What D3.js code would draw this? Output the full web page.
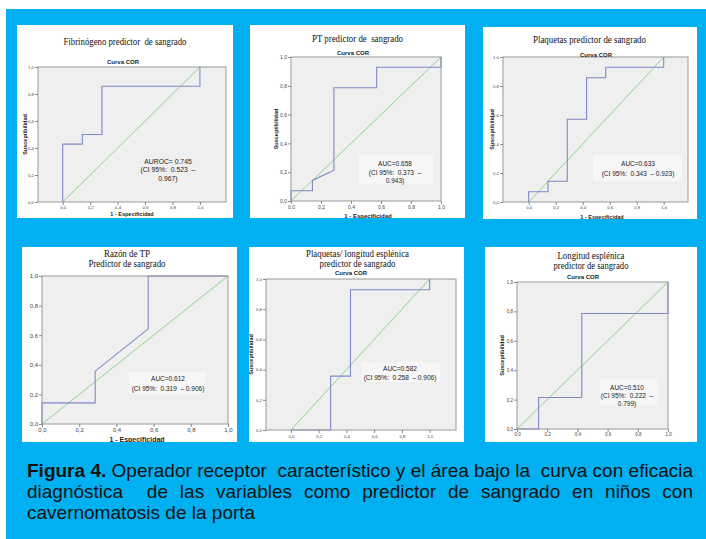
<!DOCTYPE html>
<html>
<head>
<meta charset="utf-8">
<script src="https://cdn.jsdelivr.net/npm/d3@7"></script>
<style>
body { margin: 0; background: #fff; }
svg { display: block; }
</style>
</head>
<body>
<svg id="fig" width="706" height="539"></svg>
<script>
// ROC curves: x = 1 - especificidad, y = sensibilidad
const fibrinogenoX = [0, 0, 0.143, 0.143, 0.286, 0.286, 1, 1];
const fibrinogenoY = [0, 0.429, 0.429, 0.5, 0.5, 0.857, 0.857, 1];
const ptX = [0, 0, 0.143, 0.143, 0.286, 0.286, 0.571, 0.571, 1, 1];
const ptY = [0, 0.071, 0.071, 0.143, 0.214, 0.786, 0.786, 0.929, 0.929, 1];
const plaquetasX = [0, 0, 0.143, 0.143, 0.286, 0.286, 0.429, 0.429, 0.571, 0.571, 1, 1];
const plaquetasY = [0, 0.071, 0.071, 0.143, 0.143, 0.571, 0.571, 0.857, 0.857, 0.929, 0.929, 1];
const razonX = [0, 0, 0.286, 0.286, 0.571, 0.571, 1];
const razonY = [0, 0.143, 0.143, 0.357, 0.643, 1, 1];
const plaqLongX = [0, 0.286, 0.286, 0.429, 0.429, 1, 1];
const plaqLongY = [0, 0, 0.357, 0.357, 0.929, 0.929, 1];
const longitudX = [0, 0.143, 0.143, 0.429, 0.429, 1, 1];
const longitudY = [0, 0, 0.214, 0.214, 0.786, 0.786, 1];

const curvesX = [fibrinogenoX, ptX, plaquetasX, razonX, plaqLongX, longitudX];
const curvesY = [fibrinogenoY, ptY, plaquetasY, razonY, plaqLongY, longitudY];

const titles = [
    ["Fibrinógeno predictor  de sangrado"],
    ["PT predictor de  sangrado"],
    ["Plaquetas predictor de sangrado"],
    ["Razón de TP", "Predictor de sangrado"],
    ["Plaquetas/ longitud esplénica", "predictor de sangrado"],
    ["Longitud esplénica", "predictor de sangrado"]
];
const aucLabels = [
    ["AUROC= 0.745", "(CI 95%:  0.523  \u2013", "0.967)"],
    ["AUC=0.658", "(CI 95%:  0.373  \u2013", "0.943)"],
    ["AUC=0.633", "(CI 95%:  0.343  \u2013 0.923)"],
    ["AUC=0.612", "(CI 95%:  0.319  \u2013 0.906)"],
    ["AUC=0.582", "(CI 95%:  0.258  \u2013 0.906)"],
    ["AUC=0.510", "(CI 95%:  0.222  \u2013", "0.799)"]
];
const tickValues = [0, 0.2, 0.4, 0.6, 0.8, 1.0];
const chartTitle = "Curva COR";
const yTitle = "Susceptibilidad";
const xTitle = "1 - Especificidad";
const captionBold = "Figura 4.";
const captionLines = [
    " Operador receptor  característico y el área bajo la  curva con eficacia",
    "diagnóstica  de las variables como predictor de sangrado en niños con",
    "cavernomatosis de la porta"
];

// where each panel sits on the page (absolute px)
const layout = [
    {box: [17, 25, 233, 218], frame: [38, 67, 226, 202], xDom: [-0.18, 1.19],
     title: {cx: 125, ys: [41], ws: [123]}, cor: [123, 62], ylab: 25,
     xlab: [132, 214], xlabSize: 5.5, tick: 4.3, xtickY: 207,
     ann: {cx: 168, ys: [161, 169.5, 178], size: 6.8}, annBox: null},
    {box: [250, 25, 465, 218], frame: [291, 57, 441, 201], xDom: [0, 1],
     title: {cx: 357.5, ys: [38], ws: [91]}, cor: [353, 53], ylab: 276,
     xlab: [368, 216], xlabSize: 6, tick: 5, xtickY: 207,
     ann: {cx: 395, ys: [163.5, 172, 180], size: 6.5}, annBox: [359, 155, 433, 184]},
    {box: [483, 27, 697, 219], frame: [503, 57, 688, 202], xDom: [-0.19, 1.18],
     title: {cx: 589.5, ys: [39], ws: [113]}, cor: [596, 55], ylab: 492,
     xlab: [602, 217], xlabSize: 5.5, tick: 4.3, xtickY: 207,
     ann: {cx: 638, ys: [163, 173], size: 6.5}, annBox: [593, 155, 682, 181]},
    {box: [22, 247, 237, 442], frame: [42, 276, 228, 424], xDom: [0, 1],
     title: {cx: 127, ys: [253, 263], ws: [46, 77]}, cor: null, ylab: null,
     xlab: [137, 439], xlabSize: 7, tick: 6, xtickY: 430,
     ann: {cx: 168, ys: [378, 388], size: 6.5}, annBox: [129, 372, 206, 394]},
    {box: [249, 247, 464, 442], frame: [266, 279, 456, 430], xDom: [-0.18, 1.19],
     title: {cx: 357.5, ys: [253, 263], ws: [103, 76]}, cor: [351, 273], ylab: 251,
     xlab: [361, 446], xlabSize: 5.5, tick: 4.3, xtickY: 436,
     ann: {cx: 400, ys: [368, 377], size: 6.5}, annBox: [361, 362, 440, 382]},
    {box: [485, 247, 697, 442], frame: [517, 282, 668, 429], xDom: [0, 1],
     title: {cx: 591, ys: [255, 265], ws: [67, 75]}, cor: [583, 277], ylab: 502,
     xlab: [590, 445], xlabSize: 6, tick: 4.5, xtickY: 434,
     ann: {cx: 627, ys: [387, 395.5, 403.5], size: 6.5}, annBox: [600, 378, 658, 406]}
];

const svg = d3.select("#fig");
const sans = "'Liberation Sans', Arial, sans-serif";
const serif = "'Liberation Serif', 'Times New Roman', serif";
const tickFmt = d => d3.format(".1f")(d).replace(".", ",");

// blue background
svg.append("rect")
    .attr("x", 6).attr("y", 9)
    .attr("width", 700).attr("height", 530)
    .attr("fill", "#00b0f0");

layout.forEach(function (p, i) {
    let g = svg.append("g");
    let clipId = "clip" + i;
    svg.append("clipPath").attr("id", clipId)
        .append("rect")
        .attr("x", p.box[0]).attr("y", p.box[1])
        .attr("width", p.box[2] - p.box[0]).attr("height", p.box[3] - p.box[1]);
    g.attr("clip-path", "url(#" + clipId + ")");

    g.append("rect")
        .attr("x", p.box[0]).attr("y", p.box[1])
        .attr("width", p.box[2] - p.box[0]).attr("height", p.box[3] - p.box[1])
        .attr("fill", "#fff");

    let x = d3.scaleLinear().domain(p.xDom).range([p.frame[0], p.frame[2]]);
    let y = d3.scaleLinear().domain([0, 1]).range([p.frame[3], p.frame[1]]);

    // plot background
    g.append("rect")
        .attr("x", p.frame[0]).attr("y", p.frame[1])
        .attr("width", p.frame[2] - p.frame[0]).attr("height", p.frame[3] - p.frame[1])
        .attr("fill", "#efefef");

    if (p.annBox) {
        g.append("rect")
            .attr("x", p.annBox[0]).attr("y", p.annBox[1])
            .attr("width", p.annBox[2] - p.annBox[0]).attr("height", p.annBox[3] - p.annBox[1])
            .attr("fill", "#f6f6f6");
    }

    // reference diagonal
    g.append("line")
        .attr("x1", x(0)).attr("y1", y(0))
        .attr("x2", x(1)).attr("y2", y(1))
        .attr("stroke", "#8ed48e").attr("stroke-width", 1);

    let pts = curvesX[i].map((v, k) => [v, curvesY[i][k]]);
    let line = d3.line().x(d => x(d[0])).y(d => y(d[1]));
    g.append("path")
        .attr("d", line(pts))
        .attr("fill", "none")
        .attr("stroke", "#8088c8")
        .attr("stroke-width", 1.1);

    // frame on top
    g.append("rect")
        .attr("x", p.frame[0]).attr("y", p.frame[1])
        .attr("width", p.frame[2] - p.frame[0]).attr("height", p.frame[3] - p.frame[1])
        .attr("fill", "none")
        .attr("stroke", "#999").attr("stroke-width", 1);

    // axes
    let yAxis = d3.axisLeft(y).tickValues(tickValues).tickFormat(tickFmt).tickSize(3).tickPadding(1);
    let yg = g.append("g").attr("transform", "translate(" + p.frame[0] + ",0)").call(yAxis);
    yg.select(".domain").remove();
    yg.selectAll("line").attr("stroke", "#888");
    yg.selectAll("text").attr("font-size", p.tick).attr("font-family", sans).attr("fill", "#444");

    let xAxis = d3.axisBottom(x).tickValues(tickValues).tickFormat(tickFmt).tickSize(3).tickPadding(1);
    let xg = g.append("g").attr("transform", "translate(0," + p.frame[3] + ")").call(xAxis);
    xg.select(".domain").remove();
    xg.selectAll("line").attr("stroke", "#888");
    xg.selectAll("text")
        .attr("y", p.xtickY - p.frame[3]).attr("dy", "0.35em")
        .attr("font-size", p.tick).attr("font-family", sans).attr("fill", "#444");

    // titles
    titles[i].forEach(function (t, k) {
        g.append("text")
            .attr("x", p.title.cx).attr("y", p.title.ys[k])
            .attr("dominant-baseline", "central")
            .attr("text-anchor", "middle")
            .attr("font-family", serif).attr("font-size", 10.5)
            .attr("textLength", p.title.ws[k]).attr("lengthAdjust", "spacingAndGlyphs")
            .attr("fill", "#111")
            .style("white-space", "pre")
            .text(t);
    });

    if (p.cor) {
        g.append("text")
            .attr("x", p.cor[0]).attr("y", p.cor[1])
            .attr("dominant-baseline", "central").attr("text-anchor", "middle")
            .attr("font-family", sans).attr("font-size", 6).attr("font-weight", "bold")
            .attr("fill", "#222")
            .text(chartTitle);
    }

    if (p.ylab !== null) {
        g.append("text")
            .attr("transform", "translate(" + p.ylab + "," + (p.frame[1] + p.frame[3]) / 2 + ") rotate(-90)")
            .attr("dominant-baseline", "central").attr("text-anchor", "middle")
            .attr("font-family", sans).attr("font-size", 5.5).attr("font-weight", "bold")
            .attr("fill", "#222")
            .text(yTitle);
    }

    g.append("text")
        .attr("x", p.xlab[0]).attr("y", p.xlab[1])
        .attr("dominant-baseline", "central").attr("text-anchor", "middle")
        .attr("font-family", sans).attr("font-size", p.xlabSize).attr("font-weight", "bold")
        .attr("fill", "#222")
        .text(xTitle);

    aucLabels[i].forEach(function (t, k) {
        g.append("text")
            .attr("x", p.ann.cx).attr("y", p.ann.ys[k])
            .attr("dominant-baseline", "central").attr("text-anchor", "middle")
            .attr("font-family", sans).attr("font-size", p.ann.size)
            .attr("fill", "#222")
            .style("white-space", "pre")
            .text(t);
    });
});

// caption, first two lines justified
const capLeft = 27, capRight = 693;
const capBase = [477, 498, 519];
captionLines.forEach(function (ln, i) {
    let t = svg.append("text")
        .attr("x", capLeft).attr("y", capBase[i])
        .attr("font-family", sans).attr("font-size", 19)
        .attr("fill", "#111")
        .style("white-space", "pre");
    if (i === 0) {
        t.append("tspan").attr("font-weight", "bold").text(captionBold);
    }
    t.append("tspan").text(ln);
    if (i < 2) {
        let w = t.node().getComputedTextLength();
        let full = (i === 0 ? captionBold : "") + ln;
        let spaces = (full.match(/ /g) || []).length;
        let extra = (capRight - capLeft - w) / spaces;
        if (extra >= 0) {
            t.style("word-spacing", extra + "px");
        } else {
            t.attr("textLength", capRight - capLeft).attr("lengthAdjust", "spacingAndGlyphs");
        }
    }
});
</script>
</body>
</html>
